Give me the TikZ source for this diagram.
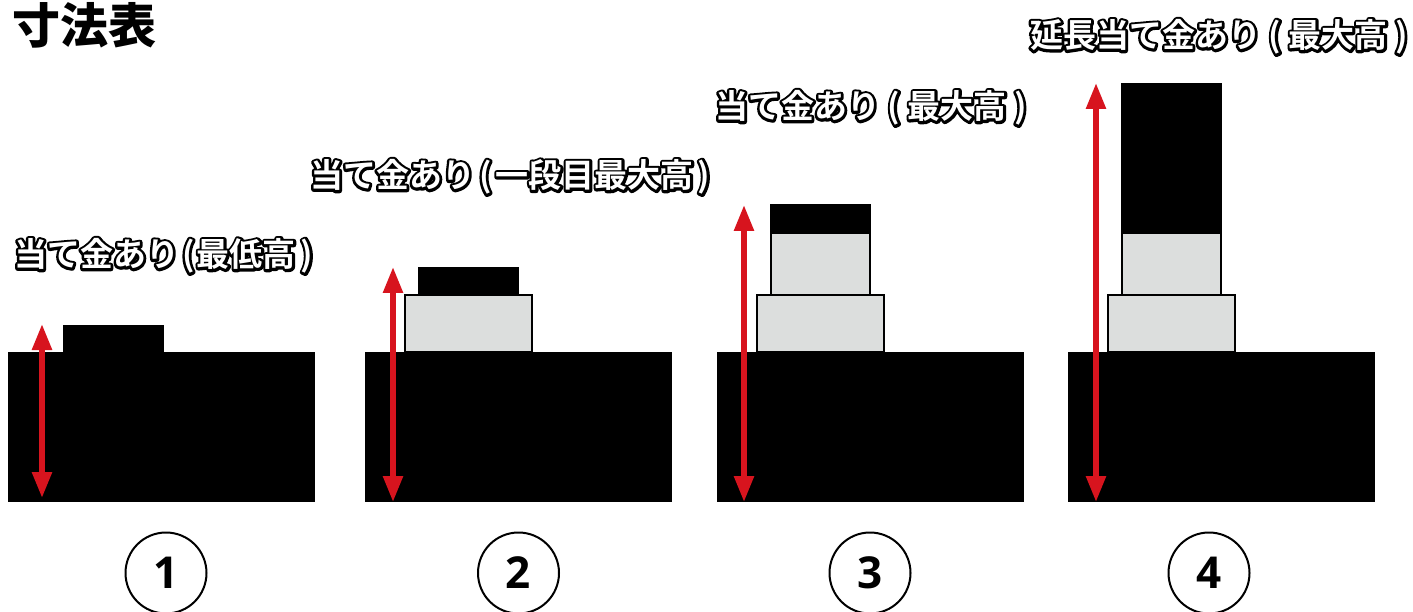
\documentclass[tikz,border=0pt]{standalone}
\usepackage{fontspec}
\usepackage{tikz}
\usetikzlibrary{arrows.meta}
\newfontfamily\jpfont{Noto Sans CJK JP Bold}
\newfontfamily\titlefont{Noto Sans CJK JP Black}
\newfontfamily\numfont{Open Sans Bold}
\definecolor{armred}{HTML}{D7141E}
\definecolor{plategray}{HTML}{DCDEDD}
\tikzset{
  plate/.style={draw=black,line width=1.6pt,fill=plategray},
  block/.style={fill=black},
  height/.style={draw=armred,line width=5.5pt,{Stealth[length=26pt,width=19pt,inset=0pt]}-{Stealth[length=26pt,width=19pt,inset=0pt]}},
  caption/.style={anchor=west,inner sep=0pt,font=\jpfont\fontsize{33}{33}\selectfont},
  number/.style={draw=black,line width=2pt,circle,minimum size=81pt,inner sep=0pt,font=\numfont\fontsize{44}{44}\selectfont}
}
% black edge painted by the pdf text mode, white letters on top
\newcommand{\outlined}[1]{\rlap{\special{pdf:code q 2 Tr 5.2 w 1 j 0 g 0 G}#1\special{pdf:code Q}}\textcolor{white}{#1}}
\begin{document}
\begin{tikzpicture}[x=1pt,y=1pt]
\useasboundingbox (0,0) rectangle (1413,-612);
\node [anchor=west,inner sep=0pt,font=\titlefont\fontsize{48}{48}\selectfont] (title) at (12,-25) {寸法表};
% panel 1
\fill [block] (8,-352) rectangle (315,-502);
\fill [block] (63,-325) rectangle (164,-352);
\coordinate (top1) at (42,-324);
\coordinate (bot1) at (42,-498);
\draw [height] (bot1) -- (top1);
\node [caption] (cap1) at (14,-256) {\outlined{当て金あり\hspace{3pt}(\hspace{2pt}最低高\hspace{5pt})}};
\node [number] (num1) at (166,-573) {1};
% panel 2
\fill [block] (365,-352) rectangle (672,-502);
\draw [plate] (405,-352) rectangle (532,-295);
\fill [block] (418,-267) rectangle (519,-295);
\coordinate (top2) at (393,-267);
\coordinate (bot2) at (393,-502);
\draw [height] (bot2) -- (top2);
\node [caption] (cap2) at (310,-177) {\outlined{当て金あり\hspace{4pt}(\hspace{4pt}一段目最大高\hspace{4pt})}};
\node [number] (num2) at (518.5,-573) {2};
% panel 3
\fill [block] (717,-352) rectangle (1024,-502);
\draw [plate] (757,-352) rectangle (884,-295);
\draw [plate] (771,-295) rectangle (870,-233);
\fill [block] (770,-204) rectangle (871,-232);
\coordinate (top3) at (744,-205);
\coordinate (bot3) at (744,-502);
\draw [height] (bot3) -- (top3);
\node [caption] (cap3) at (715,-108) {\outlined{当て金あり ( 最大高 )}};
\node [number] (num3) at (870,-573) {3};
% panel 4
\fill [block] (1068,-352) rectangle (1375,-502);
\draw [plate] (1108,-352) rectangle (1235,-295);
\draw [plate] (1122,-295) rectangle (1221,-233);
\fill [block] (1121,-83) rectangle (1222,-233);
\coordinate (top4) at (1096,-83);
\coordinate (bot4) at (1096,-502);
\draw [height] (bot4) -- (top4);
\node [caption] (cap4) at (1030,-37) {\outlined{延長当て金あり ( 最大高 )}};
\node [number] (num4) at (1209,-573) {4};
\end{tikzpicture}
\end{document}
